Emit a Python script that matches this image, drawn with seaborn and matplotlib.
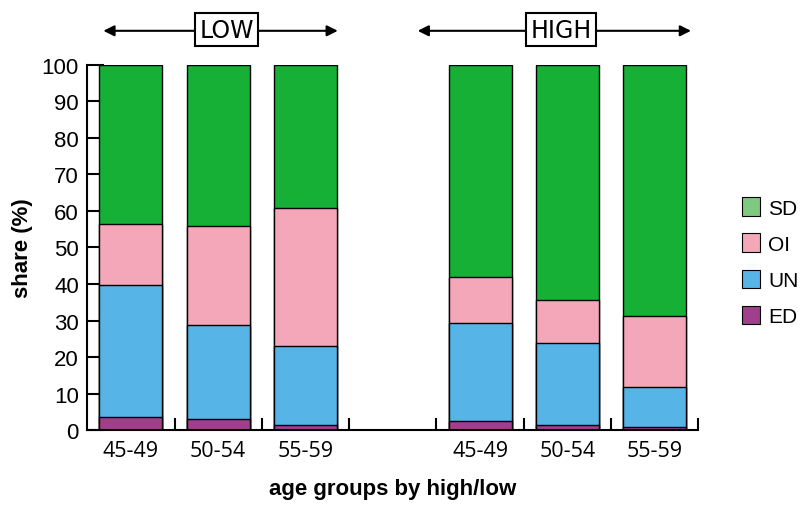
import matplotlib
matplotlib.use("Agg")
import matplotlib.pyplot as plt
from matplotlib.patches import Patch
import pandas as pd
import seaborn as sns

# slots along the x axis (one empty slot between the two groups)
slots = ["L45-49", "L50-54", "L55-59", "gap", "H45-49", "H50-54", "H55-59"]
bars = ["L45-49", "L50-54", "L55-59", "H45-49", "H50-54", "H55-59"]
age_labels = ["45-49", "50-54", "55-59", "", "45-49", "50-54", "55-59"]

# shares (%) per bar, bottom to top
ED = [3.5, 3.1, 1.4, 2.6, 1.5, 0.8]
UN = [36.3, 25.7, 21.7, 26.8, 22.4, 11.0]
OI = [16.5, 27.0, 37.6, 12.4, 11.8, 19.5]
SD = [43.7, 44.2, 39.3, 58.2, 64.3, 68.7]

components = ["SD", "OI", "UN", "ED"]
colors = {"SD": "#17b036", "OI": "#f4a7b9", "UN": "#56b4e6", "ED": "#a03f8c"}
legend_colors = {"SD": "#7fc97f", "OI": "#f4a7b9", "UN": "#56b4e6", "ED": "#a03f8c"}

df = pd.DataFrame({"bar": bars, "ED": ED, "UN": UN, "OI": OI, "SD": SD})
df["cum_ED"] = df["ED"]
df["cum_UN"] = df["cum_ED"] + df["UN"]
df["cum_OI"] = df["cum_UN"] + df["OI"]
df["cum_SD"] = df["cum_OI"] + df["SD"]

sns.set_style("white")
plt.rcParams["font.family"] = ["Liberation Sans", "DejaVu Sans"]
plt.rcParams.update({"text.color": "black", "axes.labelcolor": "black",
                     "xtick.color": "black", "ytick.color": "black",
                     "axes.edgecolor": "black"})

fig = plt.figure(figsize=(8, 5.06), dpi=100)
ax = fig.add_axes([0.109, 0.148, 0.764, 0.722])

for comp in components:
    sns.barplot(data=df, x="bar", y="cum_" + comp, order=slots, color=colors[comp],
                saturation=1, width=0.72, edgecolor="black", linewidth=1.0, ax=ax)

ax.set_xlim(-0.5, 6.5)
ax.set_ylim(0, 100)
ax.set_yticks(range(0, 101, 10))
ax.tick_params(axis="y", left=True, direction="in", length=12, width=1.5,
               labelsize=16, pad=6)

# labels at slot centers, tick marks at slot boundaries
ax.set_xticks(range(7))
ax.set_xticklabels(age_labels, fontsize=15.5, family=["Open Sans", "DejaVu Sans"])
ax.set_xticks([i + 0.5 for i in range(7)], minor=True)
ax.tick_params(axis="x", which="major", bottom=True, length=0, pad=7)
ax.tick_params(axis="x", which="minor", bottom=True, direction="in", length=9, width=1.5)

for s in ["top", "right"]:
    ax.spines[s].set_visible(False)
for s in ["left", "bottom"]:
    ax.spines[s].set_linewidth(1.5)

ax.set_xlabel("age groups by high/low", fontsize=16, fontweight="bold", labelpad=12)
ax.set_ylabel("share (%)", fontsize=16, fontweight="bold", labelpad=6)

# group headers with arrows
for x0, x1, xc, txt in [(-0.315, 2.37, 1.095, "LOW"), (3.285, 6.415, 4.925, "HIGH")]:
    for xe in (x0, x1):
        ax.annotate("", xy=(xe, 109.3), xytext=(xc, 109.3), xycoords="data",
                    annotation_clip=False,
                    arrowprops=dict(arrowstyle="-|>", color="black", lw=1.5,
                                    mutation_scale=16, shrinkA=0, shrinkB=0))
    ax.text(xc, 109.6, txt, ha="center", va="center", fontsize=17,
            family=["Liberation Sans Narrow", "DejaVu Sans"], clip_on=False,
            bbox=dict(boxstyle="square,pad=0.18", fc="white", ec="black", lw=1.5))

handles = [Patch(facecolor=legend_colors[c], edgecolor="black", lw=0.8, label=c)
           for c in components]
fig.legend(handles=handles, loc="upper left", bbox_to_anchor=(0.904, 0.645),
           frameon=False, fontsize=15, handlelength=0.85, handleheight=1.0,
           handletextpad=0.4, labelspacing=0.75)

fig.savefig("out.png", dpi=100)
